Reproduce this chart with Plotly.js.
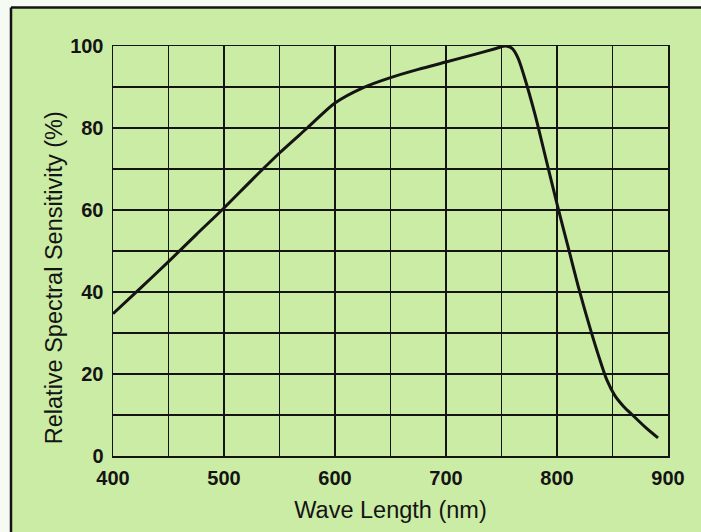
<!DOCTYPE html>
<html>
<head>
<meta charset="utf-8">
<script src="https://cdn.plot.ly/plotly-3.0.1.min.js"></script>
<style>
  html, body { margin: 0; padding: 0; background: #f5fbf3; }
  #chart { width: 701px; height: 532px; }
</style>
</head>
<body>
<div id="chart"></div>
<script>
// Wavelength (nm) and relative spectral sensitivity (%)
const wavelength = [400, 425, 450, 475, 500, 525, 550, 575, 600, 625, 650, 675, 700, 725, 745, 754, 760, 765, 770, 780, 790, 800, 810, 820, 830, 838, 845, 852, 860, 868, 880, 891];
const sensitivity = [34.7, 41, 47.4, 54, 60.5, 67.3, 73.9, 80, 86.1, 89.8, 92.3, 94.3, 96.1, 97.9, 99.4, 100, 99.3, 97, 93, 83.5, 72.5, 61.5, 51, 40.5, 31, 24, 18.5, 14.8, 12.1, 10, 6.9, 4.4];

const xTicks = [400, 500, 600, 700, 800, 900];
const yTicks = [0, 20, 40, 60, 80, 100];

const xTitle = 'Wave Length (nm)';
const yTitle = 'Relative Spectral Sensitivity (%)';

const ink = '#141414';
const green = '#cbeca4';

const trace = {
  x: wavelength,
  y: sensitivity,
  type: 'scatter',
  mode: 'lines',
  line: { color: ink, width: 3, shape: 'spline', smoothing: 0.8 },
  hoverinfo: 'x+y'
};

const layout = {
  width: 701,
  height: 532,
  margin: { l: 113, r: 33, t: 46, b: 76, pad: 0 },
  paper_bgcolor: '#f5fbf3',
  plot_bgcolor: green,
  showlegend: false,
  font: { family: 'Liberation Sans, Arial, sans-serif', color: ink },
  xaxis: {
    range: [400, 900],
    tickvals: xTicks,
    ticktext: xTicks.map(String),
    ticks: '',
    ticklabelstandoff: 3,
    tickfont: { size: 20, weight: 'bold', color: ink },
    showgrid: true,
    gridcolor: ink,
    gridwidth: 1.5,
    showline: true,
    mirror: true,
    linecolor: ink,
    linewidth: 1.5,
    zeroline: false,
    fixedrange: true,
    minor: { showgrid: true, tickvals: [450, 550, 650, 750, 850], gridcolor: ink, gridwidth: 1.5 },
    title: { text: xTitle, font: { size: 23.5, color: ink }, standoff: 14 }
  },
  yaxis: {
    range: [0, 100],
    tickvals: yTicks,
    ticktext: yTicks.map(String),
    ticks: '',
    ticklabelstandoff: 4,
    tickfont: { size: 20, weight: 'bold', color: ink },
    showgrid: true,
    gridcolor: ink,
    gridwidth: 1.5,
    showline: true,
    mirror: true,
    linecolor: ink,
    linewidth: 1.5,
    zeroline: false,
    fixedrange: true,
    minor: { showgrid: true, tickvals: [10, 30, 50, 70, 90], gridcolor: ink, gridwidth: 1.5 }
  },
  shapes: [
    // green card behind the chart
    { type: 'rect', xref: 'paper', yref: 'paper', x0: -0.1838, x1: 1.2, y0: -0.4, y1: 1.094,
      fillcolor: green, line: { width: 0 }, layer: 'below' },
    // left border of the card
    { type: 'line', xref: 'paper', yref: 'paper', x0: -0.1838, x1: -0.1838, y0: -0.4, y1: 1.094,
      line: { color: ink, width: 2.5 } },
    // top border of the card
    { type: 'line', xref: 'paper', yref: 'paper', x0: -0.1838, x1: 1.2, y0: 1.094, y1: 1.094,
      line: { color: ink, width: 2.5 } }
  ],
  annotations: [
    { text: yTitle, xref: 'paper', yref: 'paper', x: -0.106, y: 0.434,
      xanchor: 'center', yanchor: 'middle', textangle: -90, showarrow: false,
      font: { size: 23.5, color: ink } }
  ]
};

Plotly.newPlot('chart', [trace], layout, { staticPlot: true, displayModeBar: false });
</script>
</body>
</html>
